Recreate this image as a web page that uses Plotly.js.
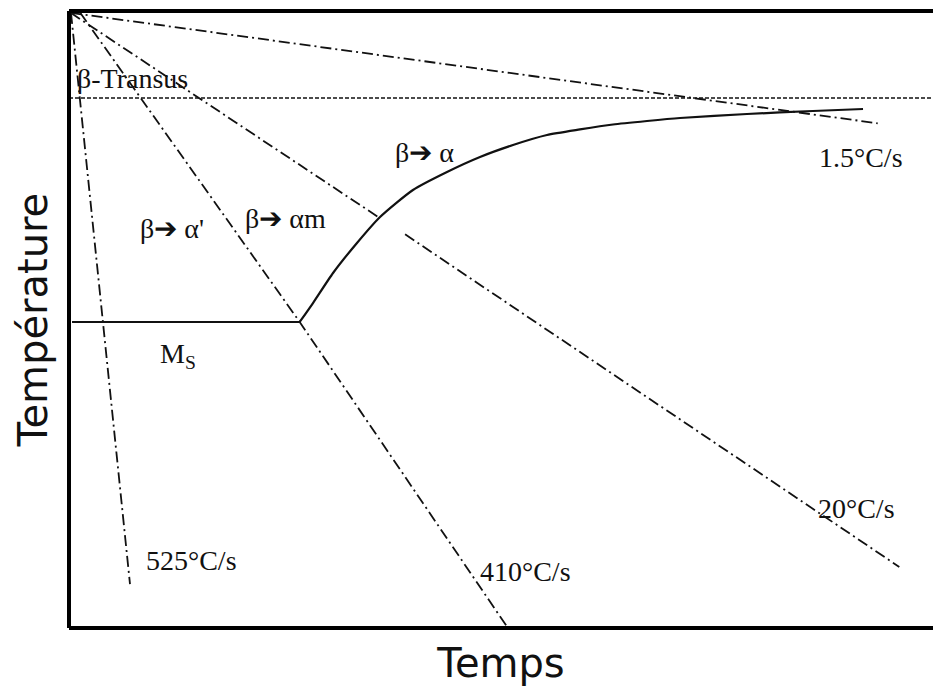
<!DOCTYPE html>
<html>
<head>
<meta charset="utf-8">
<script src="https://cdn.plot.ly/plotly-3.0.1.min.js"></script>
<style>html,body{margin:0;padding:0;background:#fff;}#chart{width:934px;height:688px;}</style>
</head>
<body>
<div id="chart"></div>
<script>
// Schematic CCT diagram: time (arbitrary 0-100) vs temperature (arbitrary 0-100)
const betaTransusT = 85.9;
const transusX = [0, 100];

const rate1p5X = [0.2, 93.6];
const rate1p5Y = [99.7, 81.8];

const rate20aX = [0.2, 35.8];
const rate20aY = [99.7, 66.6];
const rate20bX = [38.9, 96.1];
const rate20bY = [63.8, 9.9];

const rate410X = [1.3, 26.7, 50.8];
const rate410Y = [99.7, 49.6, 0];

const rate525X = [0.23, 7.06];
const rate525Y = [99.7, 7.1];

const msX = [0.35, 26.7];
const msY = [49.6, 49.6];

const curveX = [26.7, 28.24, 30.56, 33.33, 36.0, 39.81, 43.75, 47.57, 51.39, 55.32, 59.14, 62.96, 66.9, 70.72, 78.47, 86.11, 91.9];
const curveY = [49.6, 52.67, 57.54, 62.4, 66.61, 70.99, 73.91, 76.34, 78.28, 79.9, 80.8, 81.6, 82.17, 82.66, 83.31, 83.79, 84.12];

const labelText = ["β-Transus", "1.5°C/s", "β➔ α", "β➔ α'", "β➔ αm", "M<sub>S</sub>", "525°C/s", "410°C/s", "20°C/s"];
const labelX = [0.7, 91.7, 41.2, 11.9, 25.0, 12.6, 14.2, 52.8, 91.1];
const labelY = [89.0, 76.2, 77.1, 64.8, 66.3, 44.2, 11.0, 9.1, 19.4];
const labelAnchor = ["left", "center", "center", "center", "center", "center", "center", "center", "center"];

const dd = "11px,4px,2px,4px";
function ln(x, y, dash, w) {
  return {x: x, y: y, mode: "lines", type: "scatter", hoverinfo: "skip", showlegend: false,
          line: {color: "#111", width: w || 1.8, dash: dash}};
}
const traces = [
  ln(transusX, [betaTransusT, betaTransusT], "4px,2px", 1.7),
  ln(rate1p5X, rate1p5Y, dd),
  ln(rate20aX, rate20aY, dd),
  ln(rate20bX, rate20bY, dd),
  ln(rate410X, rate410Y, dd),
  ln(rate525X, rate525Y, dd),
  ln(msX, msY, "solid", 2),
  {x: curveX, y: curveY, mode: "lines", type: "scatter", hoverinfo: "skip", showlegend: false,
   line: {color: "#111", width: 2.2, shape: "spline", smoothing: 0.6}}
];

const annotations = labelText.map((t, i) => ({
  x: labelX[i], y: labelY[i], xref: "x", yref: "y", text: t, showarrow: false,
  xanchor: labelAnchor[i], yanchor: "middle",
  font: {family: "Liberation Serif, Times New Roman, serif", size: 28, color: "#111"}
}));

const layout = {
  width: 934, height: 688,
  margin: {l: 69, r: 1, t: 11, b: 60},
  paper_bgcolor: "#fff", plot_bgcolor: "#fff",
  showlegend: false,
  xaxis: {range: [0, 100], showgrid: false, zeroline: false, showticklabels: false, ticks: "",
          showline: false,
          title: {text: "Temps", font: {family: "DejaVu Sans", size: 40, color: "#111"}, standoff: 20}},
  yaxis: {range: [0, 100], showgrid: false, zeroline: false, showticklabels: false, ticks: "",
          showline: false,
          title: {text: "Température", font: {family: "DejaVu Sans", size: 40, color: "#111"}, standoff: 8}},
  shapes: [
    {type: "line", xref: "paper", yref: "paper", x0: 0, x1: 0, y0: 0, y1: 1, line: {color: "#000", width: 4}},
    {type: "line", xref: "paper", yref: "paper", x0: 0, x1: 1, y0: 1, y1: 1, line: {color: "#000", width: 4}},
    {type: "line", xref: "paper", yref: "paper", x0: 0, x1: 1, y0: 0, y1: 0, line: {color: "#000", width: 4}}
  ],
  annotations: annotations
};
Plotly.newPlot("chart", traces, layout, {staticPlot: true, displayModeBar: false});
</script>
</body>
</html>
